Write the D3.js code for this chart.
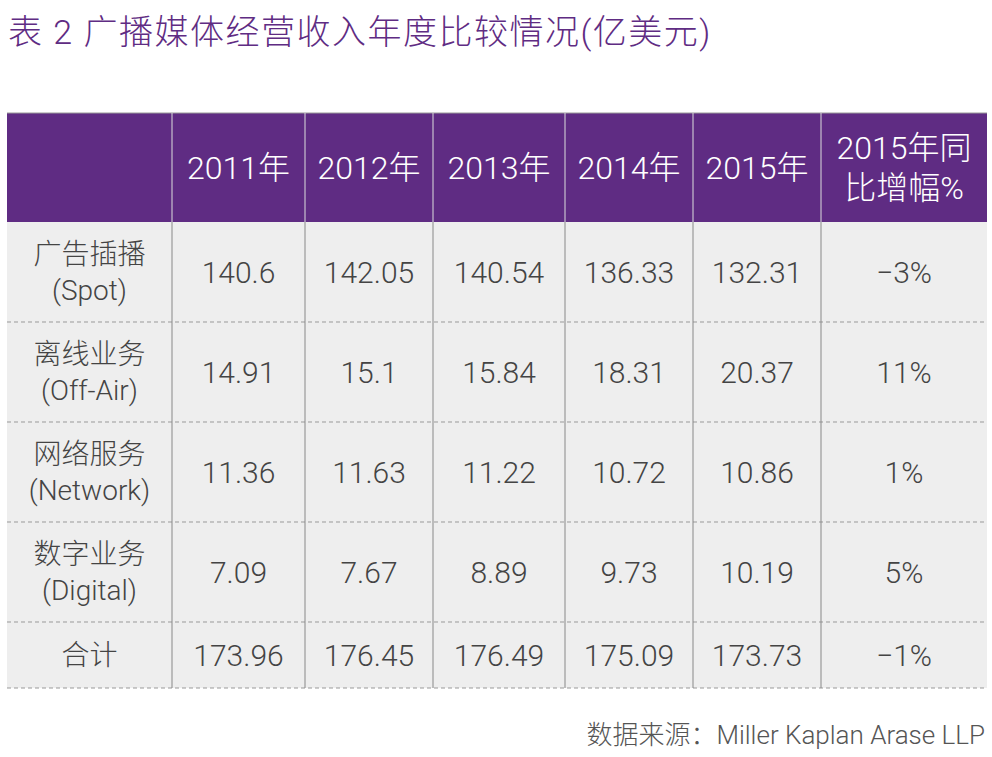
<!DOCTYPE html>
<html><head><meta charset="utf-8">
<script src="https://cdn.jsdelivr.net/npm/d3@7"></script>
<style>body{margin:0;background:#fff}</style>
</head><body>
<script>
var title = "表 2 广播媒体经营收入年度比较情况(亿美元)";
var headers = ["", "2011年", "2012年", "2013年", "2014年", "2015年", ["2015年同", "比增幅%"]];
var rowLabels = [["广告插播", "(Spot)"], ["离线业务", "(Off-Air)"], ["网络服务", "(Network)"], ["数字业务", "(Digital)"], ["合计"]];
var values = [
  ["140.6", "142.05", "140.54", "136.33", "132.31", "−3%"],
  ["14.91", "15.1", "15.84", "18.31", "20.37", "11%"],
  ["11.36", "11.63", "11.22", "10.72", "10.86", "1%"],
  ["7.09", "7.67", "8.89", "9.73", "10.19", "5%"],
  ["173.96", "176.45", "176.49", "175.09", "173.73", "−1%"]
];
var source = "数据来源：Miller Kaplan Arase LLP";

var W = 992, H = 757;
var colEdges = [7, 172, 305, 433, 565, 693, 821, 987];
var rowEdges = [113, 222, 322, 422, 522, 622, 688];
var font = "Roboto, 'Noto Sans CJK SC', sans-serif";
var svg = d3.select("body").append("svg").attr("width", W).attr("height", H);

svg.append("text").attr("x", 8).attr("y", 44).attr("fill", "#5f2c83")
  .attr("font-family", font).attr("font-weight", 300).attr("font-size", 34)
  .attr("letter-spacing", 1.5).text(title);

// header
svg.append("rect").attr("x", colEdges[0]).attr("y", rowEdges[0])
  .attr("width", colEdges[7] - colEdges[0]).attr("height", rowEdges[1] - rowEdges[0]).attr("fill", "#5f2c83");
svg.append("rect").attr("x", colEdges[0]).attr("y", rowEdges[1])
  .attr("width", colEdges[7] - colEdges[0]).attr("height", rowEdges[6] - rowEdges[1]).attr("fill", "#eeeeee");

function multiline(x, yTop, yBot, lines, size, color, gap) {
  var cy = (yTop + yBot) / 2, n = lines.length;
  lines.forEach(function (l, i) {
    svg.append("text").attr("x", x).attr("y", cy + (i - (n - 1) / 2) * gap)
      .attr("text-anchor", "middle").attr("dominant-baseline", "central")
      .attr("font-family", font).attr("font-weight", 300).attr("font-size", size)
      .attr("fill", color).text(l);
  });
}

headers.forEach(function (h, i) {
  var x = (colEdges[i] + colEdges[i + 1]) / 2;
  multiline(x, rowEdges[0], rowEdges[1], Array.isArray(h) ? h : [h], 32, "#fff", 40);
});

rowLabels.forEach(function (r, j) {
  multiline((colEdges[0] + colEdges[1]) / 2, rowEdges[j + 1], rowEdges[j + 2], r, 28, "#444", 36);
  values[j].forEach(function (v, i) {
    multiline((colEdges[i + 1] + colEdges[i + 2]) / 2, rowEdges[j + 1], rowEdges[j + 2], [v], 30, "#444", 0);
  });
});

// grid lines
svg.append("line").attr("x1", colEdges[0]).attr("x2", colEdges[7]).attr("y1", rowEdges[0]).attr("y2", rowEdges[0])
  .attr("stroke", "#999").attr("stroke-width", 1);
rowEdges.slice(2).forEach(function (y) {
  svg.append("line").attr("x1", colEdges[0]).attr("x2", colEdges[7]).attr("y1", y).attr("y2", y)
    .attr("stroke", "#999").attr("stroke-width", 1).attr("stroke-dasharray", "4,3");
});
colEdges.slice(1, 7).forEach(function (x) {
  svg.append("line").attr("x1", x).attr("x2", x).attr("y1", rowEdges[0]).attr("y2", rowEdges[1])
    .attr("stroke", "#ddd").attr("stroke-width", 1);
  svg.append("line").attr("x1", x).attr("x2", x).attr("y1", rowEdges[1]).attr("y2", rowEdges[6])
    .attr("stroke", "#888").attr("stroke-width", 1);
});

svg.append("text").attr("x", 985).attr("y", 744).attr("text-anchor", "end")
  .attr("font-family", font).attr("font-weight", 300).attr("font-size", 26).attr("fill", "#555").text(source);
</script>
</body></html>
